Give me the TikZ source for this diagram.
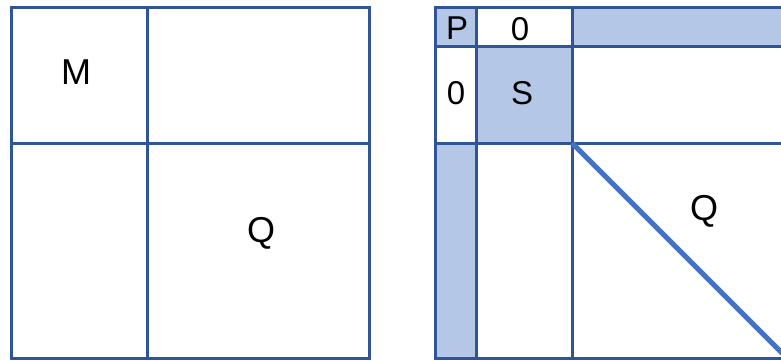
\documentclass[tikz,border=0pt]{standalone}
\usepackage{fontspec}
\setmainfont{Liberation Sans}
\usetikzlibrary{positioning}
\definecolor{gridblue}{HTML}{2F5597}
\definecolor{diagblue}{HTML}{4472C4}
\definecolor{cellfill}{HTML}{B4C7E7}
\begin{document}
\begin{tikzpicture}[x=0.5pt, y=-0.5pt]
\tikzstyle{grid}=[draw=gridblue, line width=1.5pt]
\tikzstyle{shade}=[fill=cellfill]
\tikzstyle{big}=[font=\fontsize{18}{22}\selectfont, inner sep=0pt]
\tikzstyle{small}=[font=\fontsize{16.5}{20}\selectfont, inner sep=0pt]
\clip (0,0) rectangle (781,360);
\fill[white] (0,0) rectangle (781,360);
% left block matrix
\draw[grid] (11,7) rectangle (369,358);
\draw[grid] (147,7) -- (147,358);
\draw[grid] (11,143) -- (369,143);
\node[big] (m) at (76,72) {M};
\node[big] (ql) at (261,233) {Q};
% right block matrix
\fill[shade] (435,7) rectangle (476,46);
\fill[shade] (572,7) rectangle (800,46);
\fill[shade] (476,46) rectangle (572,143);
\fill[shade] (435,143) rectangle (476,358);
\draw[grid] (435,7) rectangle (800,358);
\draw[grid] (476,7) -- (476,358);
\draw[grid] (572,7) -- (572,358);
\draw[grid] (435,46) -- (800,46);
\draw[grid] (435,143) -- (800,143);
\draw[draw=diagblue, line width=2.5pt] (572,143) -- (787,358);
\node[small] (p) at (457,28) {P};
\node[small] (zt) at (520,29) {0};
\node[small] (zl) at (456,93) {0};
\node[small] (s) at (522,93) {S};
\node[big] (qr) at (704,211) {Q};
\end{tikzpicture}
\end{document}
